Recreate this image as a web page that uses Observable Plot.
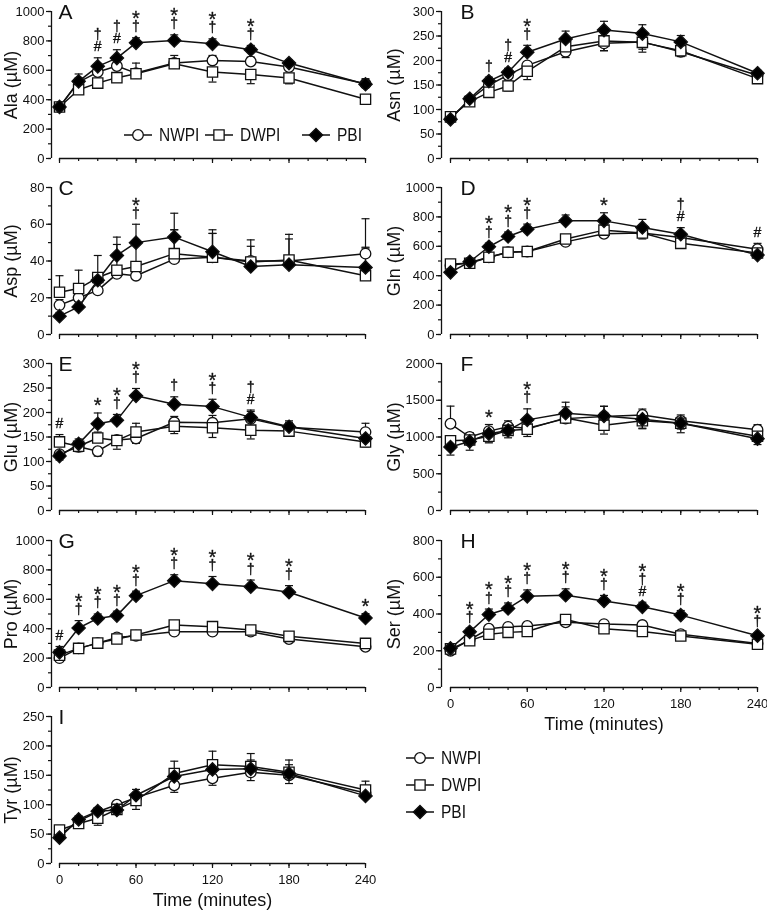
<!DOCTYPE html>
<html><head><meta charset="utf-8">
<script src="https://cdn.jsdelivr.net/npm/d3@7"></script>
<script src="https://cdn.jsdelivr.net/npm/@observablehq/plot@0.6"></script>
<style>
body{margin:0;background:#fff;}
#fig{position:relative;width:767px;height:913px;overflow:hidden;font-family:"Liberation Sans",Arial,sans-serif;color:#111;}
.panel{position:absolute;will-change:transform;}
.panel svg{background:transparent !important;}
</style></head><body><div id="fig"></div>
<script>
const times = [0, 15, 30, 45, 60, 90, 120, 150, 180, 240];
const groups = ["NWPI", "DWPI", "PBI"];
const xMajorTicks = [0, 60, 120, 180, 240];
const xMinorTicks = [0, 15, 30, 45, 60, 75, 90, 105, 120, 135, 150, 165, 180, 195, 210, 225, 240];

// A: Ala
const alaN = [350, 520, 588, 629, 581, 650, 667, 660, 622, 509];
const alaNe = [20, 55, 30, 40, 68, 51, 34, 30, 20, 20];
const alaD = [350, 468, 513, 550, 577, 645, 588, 572, 548, 403];
const alaDe = [-15, -25, -30, -30, -25, -20, -68, -63, -40, -35];
const alaP = [351, 525, 627, 683, 787, 803, 780, 740, 649, 505];
const alaPe = [20, 20, 58, 57, 34, 38, 34, 29, 20, 38];
const sigA = [{t: 30, s: "†\n#"}, {t: 45, s: "†\n#"}, {t: 60, s: "*\n†"}, {t: 90, s: "*\n†"}, {t: 120, s: "*\n†"}, {t: 150, s: "*\n†"}];

// B: Asn
const asnN = [82, 120, 150, 170, 190, 218, 235, 238, 218, 170];
const asnNe = [-5, -6, -8, -10, -12, -12, -15, -15, -10, -8];
const asnD = [85, 116, 135, 148, 178, 228, 240, 237, 220, 163];
const asnDe = [-5, -6, -8, -10, -17, -15, -20, -20, -10, -8];
const asnP = [80, 122, 158, 176, 217, 244, 262, 255, 238, 174];
const asnPe = [5, 6, 8, 8, 14, 16, 18, 18, 13, 6];
const sigB = [{t: 30, s: "†"}, {t: 45, s: "†\n#"}, {t: 60, s: "*\n†"}];

// C: Asp
const aspN = [16, 20, 24, 33, 32, 41, 42, 40, 40, 44];
const aspNe = [3, 3, 4, 4, 4, 16, 13, 8, 12, 19];
const aspD = [23, 25, 31, 35, 37, 44, 42, 39.5, 40.5, 32];
const aspDe = [9, 10, 12, 14, 12, 13, 13, 12, 14, 15];
const aspP = [10, 15, 29.5, 43, 50, 53, 45, 37, 38, 36.5];
const aspPe = [2, 2, 3, 10, 10, 13, 12, 3, 3, 11];
const sigC = [{t: 60, s: "*\n†"}];

// D: Gln
const glnN = [470, 490, 525, 560, 565, 630, 685, 690, 660, 580];
const glnNe = [20, 20, 20, 20, 20, 25, 30, 30, 30, 40];
const glnD = [480, 485, 525, 560, 565, 650, 710, 690, 620, 555];
const glnDe = [-20, -20, -20, -20, -20, -30, -40, -40, -30, -30];
const glnP = [423, 495, 597, 667, 716, 773, 773, 728, 682, 540];
const glnPe = [15, 20, 25, 30, 35, 40, 55, 55, 45, -20];
const sigD = [{t: 30, s: "*\n†"}, {t: 45, s: "*\n†"}, {t: 60, s: "*\n†"}, {t: 120, s: "*"}, {t: 180, s: "†\n#"}, {t: 240, s: "#"}];

// E: Glu
const gluN = [115, 130, 121, 144, 147, 180, 179, 187, 170, 160];
const gluNe = [-8, -10, -10, -10, -10, 12, 15, 15, 10, 18];
const gluD = [140, 131, 148, 143, 160, 172, 169, 164, 162, 140];
const gluDe = [15, -10, 12, -18, 18, -15, -20, -18, -10, -10];
const gluP = [111, 136, 177, 184, 234, 217, 212, 190, 171, 147];
const gluPe = [-8, 10, 22, 12, 15, 15, 15, 15, 12, 8];
const sigE = [{t: 0, s: "#"}, {t: 30, s: "*"}, {t: 45, s: "*\n†"}, {t: 60, s: "*\n†"}, {t: 90, s: "†"}, {t: 120, s: "*\n†"}, {t: 150, s: "†\n#"}];

// F: Gly
const glyN = [1180, 1000, 1080, 1140, 1120, 1250, 1278, 1300, 1220, 1098];
const glyNe = [240, 60, 90, 80, 90, 160, 140, 80, 80, 70];
const glyD = [950, 960, 1010, 1090, 1107, 1260, 1160, 1220, 1188, 1010];
const glyDe = [-60, -60, -90, -60, -100, -60, -120, -100, -80, -60];
const glyP = [864, 940, 1044, 1089, 1233, 1323, 1287, 1242, 1188, 977];
const glyPe = [-110, -120, -110, -100, 150, 150, 130, -130, -130, -80];
const sigF = [{t: 30, s: "*"}, {t: 60, s: "*\n†"}];

// G: Pro
const proN = [200, 266, 302, 341, 352, 380, 380, 380, 330, 277];
const proNe = [-15, -10, -10, -10, -10, -10, -10, -10, -10, -10];
const proD = [220, 266, 302, 330, 357, 425, 414, 391, 348, 300];
const proDe = [15, 10, 10, 10, 10, 10, 10, 10, 10, 10];
const proP = [239, 405, 470, 489, 625, 727, 705, 686, 648, 473];
const proPe = [40, 50, 30, 30, 30, 40, 50, 45, 45, 30];
const sigG = [{t: 0, s: "#"}, {t: 15, s: "*\n†"}, {t: 30, s: "*\n†"}, {t: 45, s: "*\n†"}, {t: 60, s: "*\n†"}, {t: 90, s: "*\n†"}, {t: 120, s: "*\n†"}, {t: 150, s: "*\n†"}, {t: 180, s: "*\n†"}, {t: 240, s: "*"}];

// H: Ser
const serN = [200, 260, 320, 330, 335, 355, 345, 340, 290, 240];
const serNe = [-10, -10, -15, -15, -15, -15, -15, -15, -10, -10];
const serD = [210, 255, 290, 300, 305, 370, 320, 305, 280, 235];
const serDe = [10, 10, 10, 15, 20, 15, -15, -15, -10, -10];
const serP = [213, 303, 397, 430, 496, 502, 471, 439, 394, 282];
const serPe = [15, 20, 30, 30, 35, 35, 30, 25, 25, 15];
const sigH = [{t: 15, s: "*\n†"}, {t: 30, s: "*\n†"}, {t: 45, s: "*\n†"}, {t: 60, s: "*\n†"}, {t: 90, s: "*\n†"}, {t: 120, s: "*\n†"}, {t: 150, s: "*\n†\n#"}, {t: 180, s: "*\n†"}, {t: 240, s: "*\n†"}];

// I: Tyr
const tyrN = [48, 72, 88, 100, 112, 133, 145, 155, 150, 120];
const tyrNe = [-4, -5, -8, -10, -12, -12, -12, -14, -14, -8];
const tyrD = [57, 68, 77, 92, 107, 153, 168, 165, 155, 125];
const tyrDe = [4, 6, -12, 8, -15, 21, 23, 22, 21, 15];
const tyrP = [44, 75, 89, 91, 116, 148, 160, 161, 153, 115];
const tyrPe = [5, 6, 6, 8, 10, 12, 15, 15, 15, 6];
const sigI = [];

const panels = [
  {id: "A", label: "Ala (µM)", ymax: 1000, major: 200, minor: 100, vals: {NWPI: alaN, DWPI: alaD, PBI: alaP}, errs: {NWPI: alaNe, DWPI: alaDe, PBI: alaPe}, sig: sigA, col: 0, row: 0},
  {id: "B", label: "Asn (µM)", ymax: 300, major: 50, minor: 25, vals: {NWPI: asnN, DWPI: asnD, PBI: asnP}, errs: {NWPI: asnNe, DWPI: asnDe, PBI: asnPe}, sig: sigB, col: 1, row: 0},
  {id: "C", label: "Asp (µM)", ymax: 80, major: 20, minor: 10, vals: {NWPI: aspN, DWPI: aspD, PBI: aspP}, errs: {NWPI: aspNe, DWPI: aspDe, PBI: aspPe}, sig: sigC, col: 0, row: 1},
  {id: "D", label: "Gln (µM)", ymax: 1000, major: 200, minor: 100, vals: {NWPI: glnN, DWPI: glnD, PBI: glnP}, errs: {NWPI: glnNe, DWPI: glnDe, PBI: glnPe}, sig: sigD, col: 1, row: 1},
  {id: "E", label: "Glu (µM)", ymax: 300, major: 50, minor: 25, vals: {NWPI: gluN, DWPI: gluD, PBI: gluP}, errs: {NWPI: gluNe, DWPI: gluDe, PBI: gluPe}, sig: sigE, col: 0, row: 2},
  {id: "F", label: "Gly (µM)", ymax: 2000, major: 500, minor: 250, vals: {NWPI: glyN, DWPI: glyD, PBI: glyP}, errs: {NWPI: glyNe, DWPI: glyDe, PBI: glyPe}, sig: sigF, col: 1, row: 2},
  {id: "G", label: "Pro (µM)", ymax: 1000, major: 200, minor: 100, vals: {NWPI: proN, DWPI: proD, PBI: proP}, errs: {NWPI: proNe, DWPI: proDe, PBI: proPe}, sig: sigG, col: 0, row: 3},
  {id: "H", label: "Ser (µM)", ymax: 800, major: 200, minor: 100, vals: {NWPI: serN, DWPI: serD, PBI: serP}, errs: {NWPI: serNe, DWPI: serDe, PBI: serPe}, sig: sigH, col: 1, row: 3, xlabels: true},
  {id: "I", label: "Tyr (µM)", ymax: 250, major: 50, minor: 25, vals: {NWPI: tyrN, DWPI: tyrD, PBI: tyrP}, errs: {NWPI: tyrNe, DWPI: tyrDe, PBI: tyrPe}, sig: sigI, col: 0, row: 4, xlabels: true}
];

const textFont = '"Liberation Sans", Arial, sans-serif';
const rowTops = [0, 176, 352, 529, 705];
const symStyle = {
  NWPI: {symbol: "circle", r: 5.3, fill: "white"},
  DWPI: {symbol: "square", r: 5.8, fill: "white"},
  PBI: {symbol: "diamond2", r: 6, fill: "black"}
};
const capSymbol = {draw(ctx, size) { const w = Math.sqrt(size / Math.PI); ctx.moveTo(-w, 0); ctx.lineTo(w, 0); }};

const fig = document.getElementById("fig");

function drawPanel(p) {
  const left = p.col === 0 ? 0 : 380;
  const width = p.col === 0 ? 380 : 387;
  const mL = p.col === 0 ? 59 : 70;
  const mR = p.col === 0 ? 15 : 10;
  const axOff = p.col === 0 ? -8 : -9;
  const mT = 11, plotH = 147;
  const mB = p.xlabels ? 50 : 12;
  const rows = [];
  groups.forEach(g => times.forEach((t, i) => rows.push({g, t, v: p.vals[g][i], e: p.errs[g][i]})));
  // one row per significance symbol, k = line index counted from the bottom
  const sigRows = [];
  p.sig.forEach(s => {
    const i = times.indexOf(s.t);
    const top = d3.max(groups, g => p.vals[g][i] + Math.max(0, p.errs[g][i]));
    const lines = s.s.split("\n").reverse();
    lines.forEach((txt, k) => sigRows.push({t: s.t, y: top, text: txt, k}));
  });
  const sigMarks = [];
  for (let k = 0; k < 3; k++) {
    const others = sigRows.filter(d => d.k === k && d.text !== "*");
    const stars = sigRows.filter(d => d.k === k && d.text === "*");
    sigMarks.push(Plot.text(others, {x: "t", y: "y", text: "text", dy: -11 - 12 * k, lineAnchor: "middle", fontSize: 14, fontFamily: textFont, fill: "#111", stroke: "#111", strokeWidth: 0.35}));
    sigMarks.push(Plot.text(stars, {x: "t", y: "y", text: "text", dy: -7 - 12 * k, lineAnchor: "middle", fontSize: 20, fontFamily: textFont, fill: "#111", stroke: "#111", strokeWidth: 0.3}));
  }
  const yMajor = d3.range(0, p.ymax + p.major / 2, p.major);
  const yMinor = d3.range(0, p.ymax + p.minor / 2, p.minor);
  const marks = [
    Plot.ruleY([0], {stroke: "#111", strokeWidth: 1.3}),
    Plot.ruleX([0], {dx: axOff, stroke: "#111", strokeWidth: 1.3}),
    Plot.axisY({ticks: yMinor, tickSize: 3, dx: axOff, tickFormat: () => "", label: null, strokeWidth: 1.2}),
    Plot.axisY({ticks: yMajor, tickSize: 5, dx: axOff, tickPadding: 2, tickFormat: d => String(d), label: null, fontSize: 13, fontFamily: textFont, strokeWidth: 1.2, ariaLabel: "ytl"}),
    Plot.axisX({ticks: xMinorTicks, tickSize: 3, tickFormat: () => "", label: null, strokeWidth: 1.2}),
    Plot.axisX({ticks: xMajorTicks, tickSize: 5, tickPadding: 6, tickFormat: p.xlabels ? (d => String(d)) : (() => ""), label: null, fontSize: 13, fontFamily: textFont, strokeWidth: 1.2, ariaLabel: "xtl"}),
    Plot.text([p.label], {frameAnchor: "left", rotate: -90, dx: p.col === 0 ? -48 : -56, fontSize: 18, fontFamily: textFont, textAnchor: "middle", lineAnchor: "middle", ariaLabel: "ylab"}),
    Plot.text([p.id], {frameAnchor: "top-left", dx: p.col === 0 ? -1 : 10, dy: 1, textAnchor: "start", lineAnchor: "middle", fontSize: 21, fontFamily: textFont}),
    Plot.line(rows, {x: "t", y: "v", z: "g", stroke: "#111", strokeWidth: 1.5}),
    Plot.ruleX(rows, {x: "t", y1: "v", y2: d => d.v + d.e, stroke: "#111", strokeWidth: 1.2}),
    Plot.dot(rows, {x: "t", y: d => d.v + d.e, symbol: capSymbol, r: 4, stroke: "#111", strokeWidth: 1.2, fill: "none"}),
    ...groups.map(g => Plot.dot(rows.filter(d => d.g === g), {x: "t", y: "v", symbol: symStyle[g].symbol, r: symStyle[g].r, fill: symStyle[g].fill, stroke: "#111", strokeWidth: 1.3})),
    ...sigMarks
  ];
  if (p.xlabels) marks.push(Plot.text(["Time (minutes)"], {frameAnchor: "bottom", dy: 37, fontSize: 18, fontFamily: textFont, lineAnchor: "middle", ariaLabel: "xlab"}));
  const chart = Plot.plot({
    width, height: mT + plotH + mB,
    marginLeft: mL, marginRight: mR, marginTop: mT, marginBottom: mB,
    x: {domain: [0, 240]},
    y: {domain: [0, p.ymax]},
    style: {background: "transparent", color: "#111", fontFamily: textFont, overflow: "visible"},
    marks
  });
  const div = document.createElement("div");
  div.className = "panel";
  div.style.left = left + "px";
  div.style.top = rowTops[p.row] + "px";
  div.appendChild(chart);
  fig.appendChild(div);
}
panels.forEach(drawPanel);

// legends (layout only)
function legend(left, top, w, h, items) {
  const svg = d3.select(fig).append("svg").attr("class", "panel")
    .style("left", left + "px").style("top", top + "px").attr("width", w).attr("height", h)
    .style("overflow", "visible");
  const symMap = {circle: d3.symbolCircle, square: d3.symbolSquare, diamond2: d3.symbolDiamond2};
  items.forEach(it => {
    const g = svg.append("g").attr("transform", `translate(${it.x},${it.y})`);
    g.append("line").attr("x1", -14).attr("x2", 14).attr("stroke", "#111").attr("stroke-width", 1.5);
    const s = symStyle[it.g];
    g.append("path").attr("d", d3.symbol(symMap[s.symbol], Math.PI * s.r * s.r)())
      .attr("fill", s.fill).attr("stroke", "#111").attr("stroke-width", 1.3);
    g.append("text").attr("class", "legtext").attr("x", 21).attr("dy", "0.35em").attr("font-size", 18).attr("font-family", textFont).attr("fill", "#111").text(it.g);
  });
}
legend(0, 0, 380, 170, [{g: "NWPI", x: 138, y: 135}, {g: "DWPI", x: 219, y: 135}, {g: "PBI", x: 316, y: 135}]);
legend(380, 740, 200, 90, [{g: "NWPI", x: 40, y: 18}, {g: "DWPI", x: 40, y: 45}, {g: "PBI", x: 40, y: 72}]);

// narrow the type to match the condensed face of the original
function squeeze(selector, f) {
  fig.querySelectorAll(selector).forEach(el => {
    const w = el.getComputedTextLength();
    if (w > 0) { el.setAttribute("textLength", (w * f).toFixed(1)); el.setAttribute("lengthAdjust", "spacingAndGlyphs"); }
  });
}
squeeze('g[aria-label="ytl"] text', 0.83);
squeeze('g[aria-label="xtl"] text', 0.83);
squeeze('g[aria-label="ylab"] text', 0.93);
squeeze('g[aria-label="xlab"] text', 0.92);
squeeze('text.legtext', 0.86);
</script>
</body></html>
